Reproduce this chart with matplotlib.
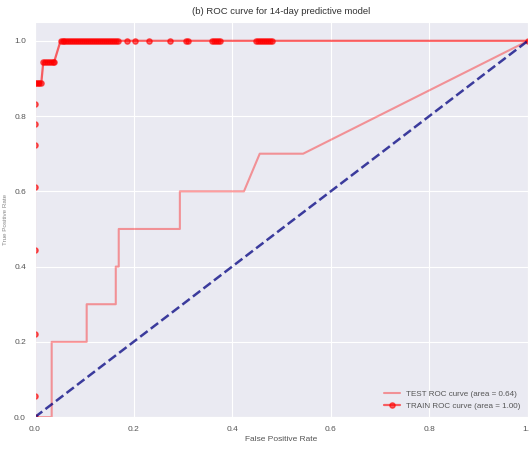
import matplotlib
matplotlib.use('Agg')
from matplotlib import pyplot as plt
import seaborn as sns

sns.set_style('darkgrid')
plt.rcParams['font.family'] = ['Liberation Sans', 'DejaVu Sans']

# TEST ROC curve
test_fpr = [0.0, 0.034, 0.034, 0.105, 0.105, 0.164, 0.164, 0.17, 0.17, 0.294, 0.294,
            0.424, 0.456, 0.544, 1.0]
test_tpr = [0.0, 0.0, 0.2, 0.2, 0.3, 0.3, 0.4, 0.4, 0.5, 0.5, 0.6,
            0.6, 0.7, 0.7, 1.0]

# TRAIN ROC curve
train_fpr = [0.0, 0.0, 0.0, 0.0, 0.0, 0.0, 0.0, 0.0, 0.0,
             0.003, 0.006, 0.009, 0.013,
             0.017, 0.021, 0.025, 0.029, 0.033, 0.036, 0.039,
             0.052, 0.056, 0.060, 0.064, 0.068, 0.072, 0.076, 0.080, 0.084, 0.088,
             0.092, 0.096, 0.100, 0.104, 0.108, 0.112, 0.116, 0.120, 0.124, 0.128,
             0.132, 0.136, 0.140, 0.144, 0.148, 0.152, 0.156, 0.160, 0.164, 0.168,
             0.186, 0.204, 0.232, 0.274, 0.306, 0.310,
             0.360, 0.364, 0.368, 0.372, 0.375,
             0.448, 0.452, 0.456, 0.460, 0.464, 0.468, 0.472, 0.476, 0.480,
             1.0]
train_tpr = [0.0, 0.056, 0.222, 0.444, 0.611, 0.722, 0.778, 0.833, 0.889,
             0.889, 0.889, 0.889, 0.889,
             0.944, 0.944, 0.944, 0.944, 0.944, 0.944, 0.944] + [1.0] * 51

test_auc = 0.64
train_auc = 1.00

fig = plt.figure(figsize=(5.29, 4.49), dpi=100)
ax = fig.add_axes([0.066, 0.071, 0.932, 0.880])

ax.plot(test_fpr, test_tpr, color='red', alpha=0.38, lw=1.5,
        label='TEST ROC curve (area = %0.2f)' % test_auc)
ax.plot(train_fpr, train_tpr, color='red', alpha=0.6, lw=1.6, marker='o', markersize=3.8,
        label='TRAIN ROC curve (area = %0.2f)' % train_auc)
ax.plot([0, 1], [0, 1], color='navy', lw=1.8, linestyle='--', alpha=0.75)

ax.set_xlim([0.0, 1.0])
ax.set_ylim([0.0, 1.05])
ax.set_xlabel('False Positive Rate', fontsize=6, color='#555555', labelpad=2)
ax.set_ylabel('True Positive Rate', fontsize=4.5, color='#888888')
ax.yaxis.set_label_coords(-0.055, 0.5)
ax.set_title('(b) ROC curve for 14-day predictive model', fontsize=6.8, color='#333333', pad=6)
ax.tick_params(labelsize=6, colors='#555555', pad=3)
leg = ax.legend(loc='lower right', fontsize=5.8, frameon=False)
for t in leg.get_texts():
    t.set_color('#555555')

fig.savefig('out.png', dpi=100)
